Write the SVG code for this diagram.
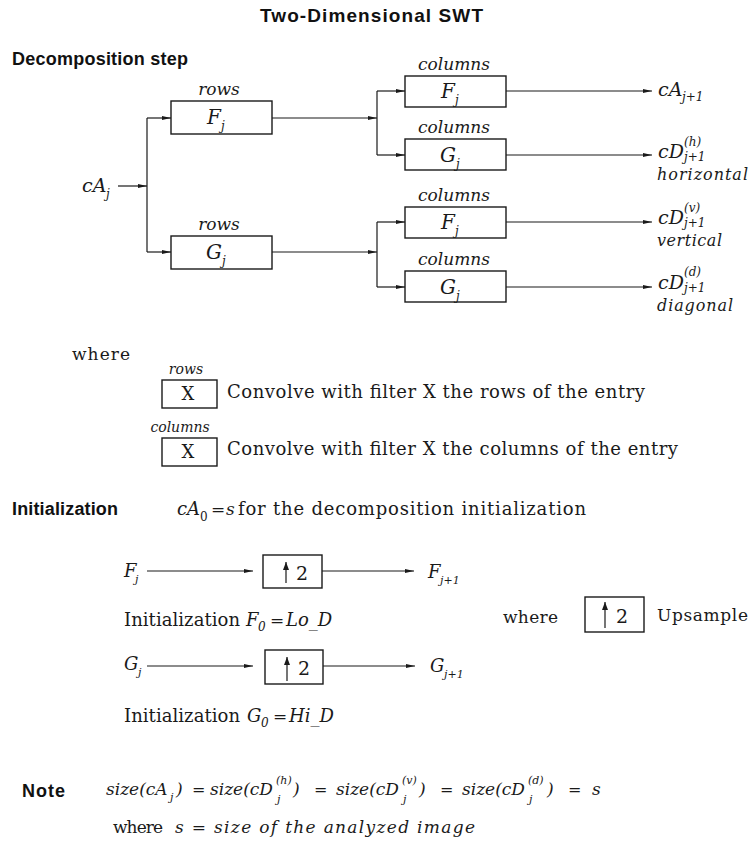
<svg xmlns="http://www.w3.org/2000/svg" width="750" height="842" viewBox="0 0 750 842">
<style>
.bg{fill:#ffffff}
.box{fill:none;stroke:#1a1a1a;stroke-width:1.4}
.ln{fill:none;stroke:#1a1a1a;stroke-width:1.2}
.hd{font-family:"Liberation Sans",Arial,sans-serif;font-weight:bold;fill:#111}
.sf{font-family:"DejaVu Serif","Liberation Serif",serif;fill:#1a1a1a}
.it{font-family:"DejaVu Serif","Liberation Serif",serif;font-style:italic;fill:#1a1a1a}
.mid{text-anchor:middle}
</style>
<defs>
<marker id="ah" markerWidth="9" markerHeight="6" refX="9" refY="3" orient="auto" markerUnits="userSpaceOnUse">
<path d="M0,0.9 L9,3 L0,5.1 z" fill="#1a1a1a"/>
</marker>
<marker id="up" markerWidth="7" markerHeight="9" refX="3.5" refY="0" orient="0" markerUnits="userSpaceOnUse">
<path d="M3.5,0 L6.5,8 L0.5,8 z" fill="#1a1a1a"/>
</marker>
</defs>
<rect class="bg" x="0" y="0" width="750" height="842"/>

<text class="hd" x="260" y="22" font-size="19" textLength="223" lengthAdjust="spacing">Two-Dimensional SWT</text>
<text class="hd" x="12" y="65" font-size="18" textLength="176" lengthAdjust="spacing">Decomposition step</text>

<g id="cAj">
<text class="it" x="82" y="192" font-size="19">cA</text>
<text class="it" x="106" y="198" font-size="12">j</text>
</g>

<g id="rowsF">
<text class="it mid" x="219" y="95" font-size="17">rows</text>
<rect class="box" x="171" y="101" width="101" height="33"/>
<text class="it" x="207" y="124" font-size="20">F</text>
<text class="it" x="221" y="130" font-size="12">j</text>
</g>
<g id="rowsG">
<text class="it mid" x="219" y="230" font-size="17">rows</text>
<rect class="box" x="171" y="236" width="101" height="33"/>
<text class="it" x="206" y="259" font-size="20">G</text>
<text class="it" x="222" y="265" font-size="12">j</text>
</g>

<g id="colsF1">
<text class="it mid" x="454" y="70" font-size="17">columns</text>
<rect class="box" x="405" y="76" width="101" height="31"/>
<text class="it" x="441" y="98" font-size="20">F</text>
<text class="it" x="455" y="104" font-size="12">j</text>
</g>
<g id="colsG1">
<text class="it mid" x="454" y="133" font-size="17">columns</text>
<rect class="box" x="405" y="139" width="101" height="31"/>
<text class="it" x="440" y="162" font-size="20">G</text>
<text class="it" x="456" y="168" font-size="12">j</text>
</g>
<g id="colsF2">
<text class="it mid" x="454" y="201" font-size="17">columns</text>
<rect class="box" x="405" y="207" width="101" height="31"/>
<text class="it" x="441" y="229" font-size="20">F</text>
<text class="it" x="455" y="235" font-size="12">j</text>
</g>
<g id="colsG2">
<text class="it mid" x="454" y="265" font-size="17">columns</text>
<rect class="box" x="405" y="271" width="101" height="31"/>
<text class="it" x="440" y="294" font-size="20">G</text>
<text class="it" x="456" y="300" font-size="12">j</text>
</g>

<g id="outA">
<text class="it" x="658" y="96" font-size="19">cA</text>
<text class="it" x="682" y="101" font-size="12">j+1</text>
</g>
<g id="outH">
<text class="it" x="658" y="158" font-size="19">cD</text>
<text class="it" x="684" y="146" font-size="12">(h)</text>
<text class="it" x="684" y="161" font-size="12">j+1</text>
<text class="it" x="657" y="180" font-size="16" textLength="91" lengthAdjust="spacing">horizontal</text>
</g>
<g id="outV">
<text class="it" x="658" y="224" font-size="19">cD</text>
<text class="it" x="684" y="212" font-size="12">(v)</text>
<text class="it" x="684" y="227" font-size="12">j+1</text>
<text class="it" x="657" y="246" font-size="16" textLength="65" lengthAdjust="spacing">vertical</text>
</g>
<g id="outD">
<text class="it" x="658" y="289" font-size="19">cD</text>
<text class="it" x="684" y="276" font-size="12">(d)</text>
<text class="it" x="684" y="292" font-size="12">j+1</text>
<text class="it" x="657" y="311" font-size="16" textLength="76" lengthAdjust="spacing">diagonal</text>
</g>

<g id="connectors">
<line class="ln" x1="118" y1="186" x2="147" y2="186" marker-end="url(#ah)"/>
<line class="ln" x1="147" y1="118" x2="147" y2="252"/>
<line class="ln" x1="147" y1="118" x2="171" y2="118" marker-end="url(#ah)"/>
<line class="ln" x1="147" y1="252" x2="171" y2="252" marker-end="url(#ah)"/>
<line class="ln" x1="272" y1="118" x2="377" y2="118" marker-end="url(#ah)"/>
<line class="ln" x1="272" y1="252" x2="377" y2="252" marker-end="url(#ah)"/>
<line class="ln" x1="377" y1="91" x2="377" y2="155"/>
<line class="ln" x1="377" y1="222" x2="377" y2="287"/>
<line class="ln" x1="377" y1="91" x2="405" y2="91" marker-end="url(#ah)"/>
<line class="ln" x1="377" y1="155" x2="405" y2="155" marker-end="url(#ah)"/>
<line class="ln" x1="377" y1="222" x2="405" y2="222" marker-end="url(#ah)"/>
<line class="ln" x1="377" y1="287" x2="405" y2="287" marker-end="url(#ah)"/>
<line class="ln" x1="506" y1="91" x2="652" y2="91" marker-end="url(#ah)"/>
<line class="ln" x1="506" y1="155" x2="652" y2="155" marker-end="url(#ah)"/>
<line class="ln" x1="506" y1="222" x2="652" y2="222" marker-end="url(#ah)"/>
<line class="ln" x1="506" y1="287" x2="652" y2="287" marker-end="url(#ah)"/>
<line class="ln" x1="147" y1="571" x2="253" y2="571" marker-end="url(#ah)"/>
<line class="ln" x1="322" y1="571" x2="414" y2="571" marker-end="url(#ah)"/>
<line class="ln" x1="147" y1="666" x2="253" y2="666" marker-end="url(#ah)"/>
<line class="ln" x1="323" y1="666" x2="415" y2="666" marker-end="url(#ah)"/>
</g>

<g id="legend">
<text class="sf" x="72" y="360" font-size="17" textLength="58" lengthAdjust="spacing">where</text>
<text class="it mid" x="186" y="374" font-size="14">rows</text>
<rect class="box" x="162" y="380" width="55" height="28"/>
<text class="sf mid" x="188" y="400" font-size="18">X</text>
<text class="sf" x="227" y="398" font-size="18" textLength="418" lengthAdjust="spacing">Convolve with filter X the rows of the entry</text>
<text class="it mid" x="180" y="432" font-size="14">columns</text>
<rect class="box" x="162" y="438" width="55" height="28"/>
<text class="sf mid" x="188" y="458" font-size="18">X</text>
<text class="sf" x="227" y="455" font-size="18" textLength="451" lengthAdjust="spacing">Convolve with filter X the columns of the entry</text>
</g>

<g id="init">
<text class="hd" x="12" y="515" font-size="18" textLength="106" lengthAdjust="spacing">Initialization</text>
<text class="it" x="177" y="515" font-size="18">cA</text>
<text class="sf" x="200" y="521" font-size="12">0</text>
<text class="sf" x="211" y="515" font-size="17">=</text>
<text class="it" x="226" y="515" font-size="17">s</text>
<text class="sf" x="238" y="515" font-size="18" textLength="348" lengthAdjust="spacing">for the decomposition initialization</text>
</g>

<g id="upF">
<text class="it" x="124" y="577" font-size="18">F</text>
<text class="it" x="135" y="583" font-size="11">j</text>
<rect class="box" x="263" y="555" width="59" height="33"/>
<line class="ln" x1="286" y1="583" x2="286" y2="562" marker-end="url(#up)"/>
<text class="sf" x="296" y="580" font-size="19">2</text>
<text class="it" x="428" y="578" font-size="18">F</text>
<text class="it" x="440" y="584" font-size="11">j+1</text>
</g>
<g id="initF">
<text class="sf" x="124" y="626" font-size="18" textLength="116" lengthAdjust="spacing">Initialization</text>
<text class="it" x="246" y="626" font-size="18">F</text>
<text class="it" x="258" y="631" font-size="12">0</text>
<text class="sf" x="270" y="626" font-size="17">=</text>
<text class="it" x="286" y="626" font-size="18">Lo_D</text>
</g>

<g id="upLegend">
<text class="sf" x="503" y="623" font-size="17" textLength="55" lengthAdjust="spacing">where</text>
<rect class="box" x="585" y="597" width="59" height="35"/>
<line class="ln" x1="605" y1="628" x2="605" y2="602" marker-end="url(#up)"/>
<text class="sf" x="616" y="623" font-size="19">2</text>
<text class="sf" x="657" y="621" font-size="17" textLength="91" lengthAdjust="spacing">Upsample</text>
</g>

<g id="upG">
<text class="it" x="124" y="670" font-size="18">G</text>
<text class="it" x="138" y="676" font-size="11">j</text>
<rect class="box" x="265" y="650" width="58" height="34"/>
<line class="ln" x1="287" y1="681" x2="287" y2="657" marker-end="url(#up)"/>
<text class="sf" x="298" y="675" font-size="19">2</text>
<text class="it" x="430" y="672" font-size="18">G</text>
<text class="it" x="444" y="678" font-size="11">j+1</text>
</g>
<g id="initG">
<text class="sf" x="124" y="722" font-size="18" textLength="116" lengthAdjust="spacing">Initialization</text>
<text class="it" x="247" y="722" font-size="18">G</text>
<text class="it" x="261" y="727" font-size="12">0</text>
<text class="sf" x="273" y="722" font-size="17">=</text>
<text class="it" x="289" y="722" font-size="18">Hi_D</text>
</g>

<g id="note">
<text class="hd" x="22" y="797" font-size="18" textLength="43" lengthAdjust="spacing">Note</text>
<text class="it" x="106" y="795" font-size="17">size(cA</text>
<text class="it" x="170" y="801" font-size="11">j</text>
<text class="it" x="176" y="795" font-size="17">)</text>
<text class="sf" x="192" y="795" font-size="16">=</text>
<text class="it" x="210" y="795" font-size="17">size(cD</text>
<text class="it" x="276" y="784" font-size="11">(h)</text>
<text class="it" x="277" y="803" font-size="11">j</text>
<text class="it" x="293" y="795" font-size="17">)</text>
<text class="sf" x="314" y="795" font-size="16">=</text>
<text class="it" x="336" y="795" font-size="17">size(cD</text>
<text class="it" x="402" y="784" font-size="11">(v)</text>
<text class="it" x="403" y="803" font-size="11">j</text>
<text class="it" x="419" y="795" font-size="17">)</text>
<text class="sf" x="440" y="795" font-size="16">=</text>
<text class="it" x="462" y="795" font-size="17">size(cD</text>
<text class="it" x="528" y="784" font-size="11">(d)</text>
<text class="it" x="529" y="803" font-size="11">j</text>
<text class="it" x="547" y="795" font-size="17">)</text>
<text class="sf" x="568" y="795" font-size="16">=</text>
<text class="it" x="592" y="795" font-size="17">s</text>
<text class="sf" x="113" y="833" font-size="17" textLength="50" lengthAdjust="spacing">where</text>
<text class="it" x="175" y="833" font-size="17" textLength="300" lengthAdjust="spacing">s = size of the analyzed image</text>
</g>
</svg>
